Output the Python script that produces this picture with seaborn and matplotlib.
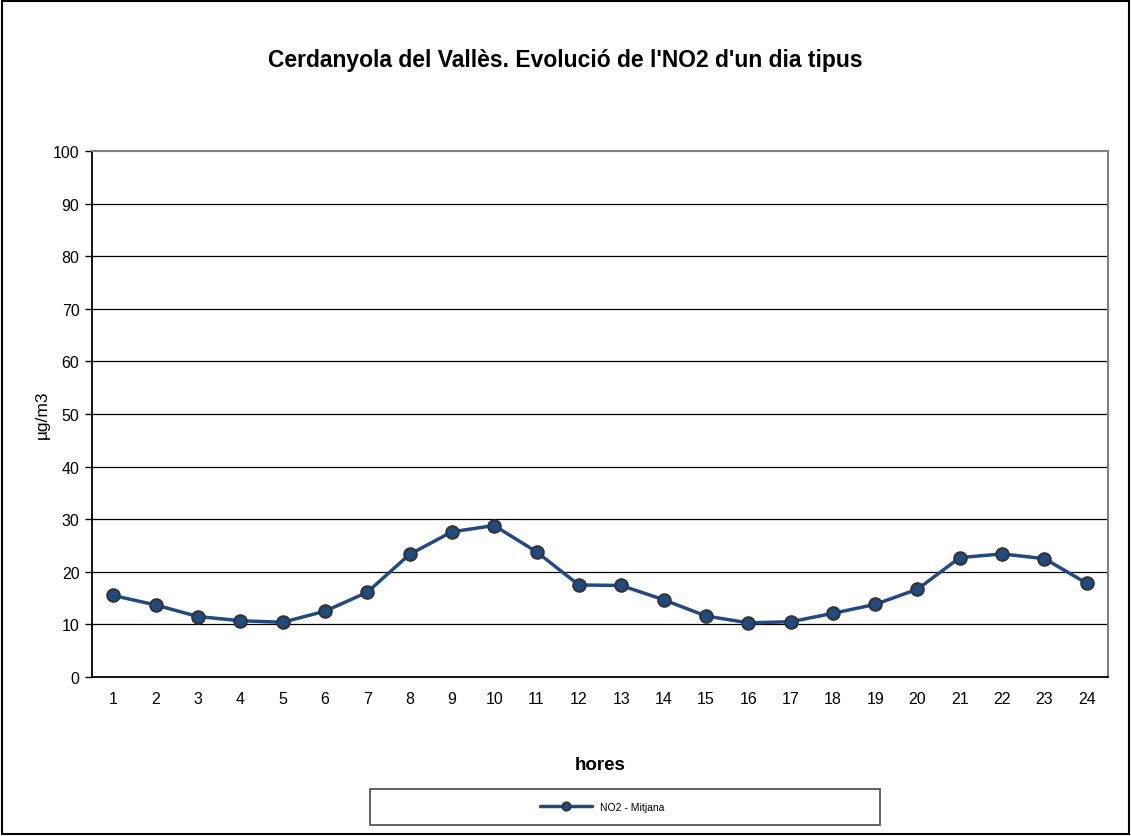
import numpy as np
import pandas as pd
import matplotlib
matplotlib.use("Agg")
import matplotlib.pyplot as plt
import seaborn as sns
from matplotlib.patches import Rectangle

# Dades llegides del gràfic
hores = list(range(1, 25))
no2_mitjana = [15.5, 13.7, 11.5, 10.7, 10.4, 12.5, 16.1, 23.3, 27.6, 28.8, 23.8, 17.5,
               17.4, 14.7, 11.6, 10.3, 10.5, 12.1, 13.8, 16.7, 22.7, 23.4, 22.5, 17.8]
y_ticks = list(range(0, 101, 10))

sns.set_style("white")
plt.rcParams['font.family'] = ['Liberation Sans', 'DejaVu Sans']
plt.rcParams['text.color'] = 'black'
plt.rcParams['axes.labelcolor'] = 'black'
plt.rcParams['xtick.color'] = 'black'
plt.rcParams['ytick.color'] = 'black'

df = pd.DataFrame({'hora': hores, 'NO2 - Mitjana': no2_mitjana})

fig = plt.figure(figsize=(11.31, 8.37), dpi=100)
ax = fig.add_axes([92 / 1131, (837 - 678) / 837, 1016 / 1131, 526 / 837])

sns.lineplot(data=df, x='hora', y='NO2 - Mitjana', ax=ax, color='#1f4b82',
             linewidth=2.5, marker='o', markersize=9, markerfacecolor='#1f4b82',
             markeredgecolor='#333333', markeredgewidth=1.5, label='NO2 - Mitjana',
             legend=False)

ax.set_xlim(0.5, 24.5)
ax.set_ylim(0, 100)
ax.set_yticks(y_ticks)
ax.set_xticks(hores)
ax.set_xticks(np.arange(0.5, 25, 1), minor=True)
ax.tick_params(axis='x', which='major', length=0, labelsize=11.5, pad=10)
ax.tick_params(axis='x', which='minor', length=5, width=1, color='black', direction='out')
ax.tick_params(axis='y', which='major', length=5, width=1, color='black', direction='out',
               labelsize=11.5, left=True, pad=4)
for t in y_ticks[1:-1]:
    ax.axhline(t, color='black', linewidth=0.9, zorder=0)

for side in ['left', 'bottom']:
    ax.spines[side].set_color('black')
    ax.spines[side].set_linewidth(1.3)
for side in ['top', 'right']:
    ax.spines[side].set_color('#808080')
    ax.spines[side].set_linewidth(1.5)

ax.set_xlabel('hores', fontsize=13.5, fontweight='bold', labelpad=36)
ax.set_ylabel('µg/m3', fontsize=12.5, labelpad=2)
fig.text(0.5, 1 - 60 / 837, "Cerdanyola del Vallès. Evolució de l'NO2 d'un dia tipus",
         ha='center', va='center', fontsize=16.5, fontweight='bold')

# llegenda centrada dins una caixa ampla
handles, labels = ax.get_legend_handles_labels()
fig.legend(handles, labels, loc='center',
           bbox_to_anchor=(602 / 1131, 1 - 808 / 837),
           fontsize=7.5, frameon=False, handlelength=5, markerscale=0.65)
fig.patches.append(Rectangle((370 / 1131, 1 - 826 / 837), 510 / 1131, 36 / 837,
                             transform=fig.transFigure, fill=False,
                             edgecolor='#555555', linewidth=1.3))

fig.patches.append(Rectangle((2 / 1131, 2 / 837), 1 - 4 / 1131, 1 - 4 / 837,
                             transform=fig.transFigure, fill=False,
                             edgecolor='black', linewidth=1.5))

plt.savefig('out.png', dpi=100)
